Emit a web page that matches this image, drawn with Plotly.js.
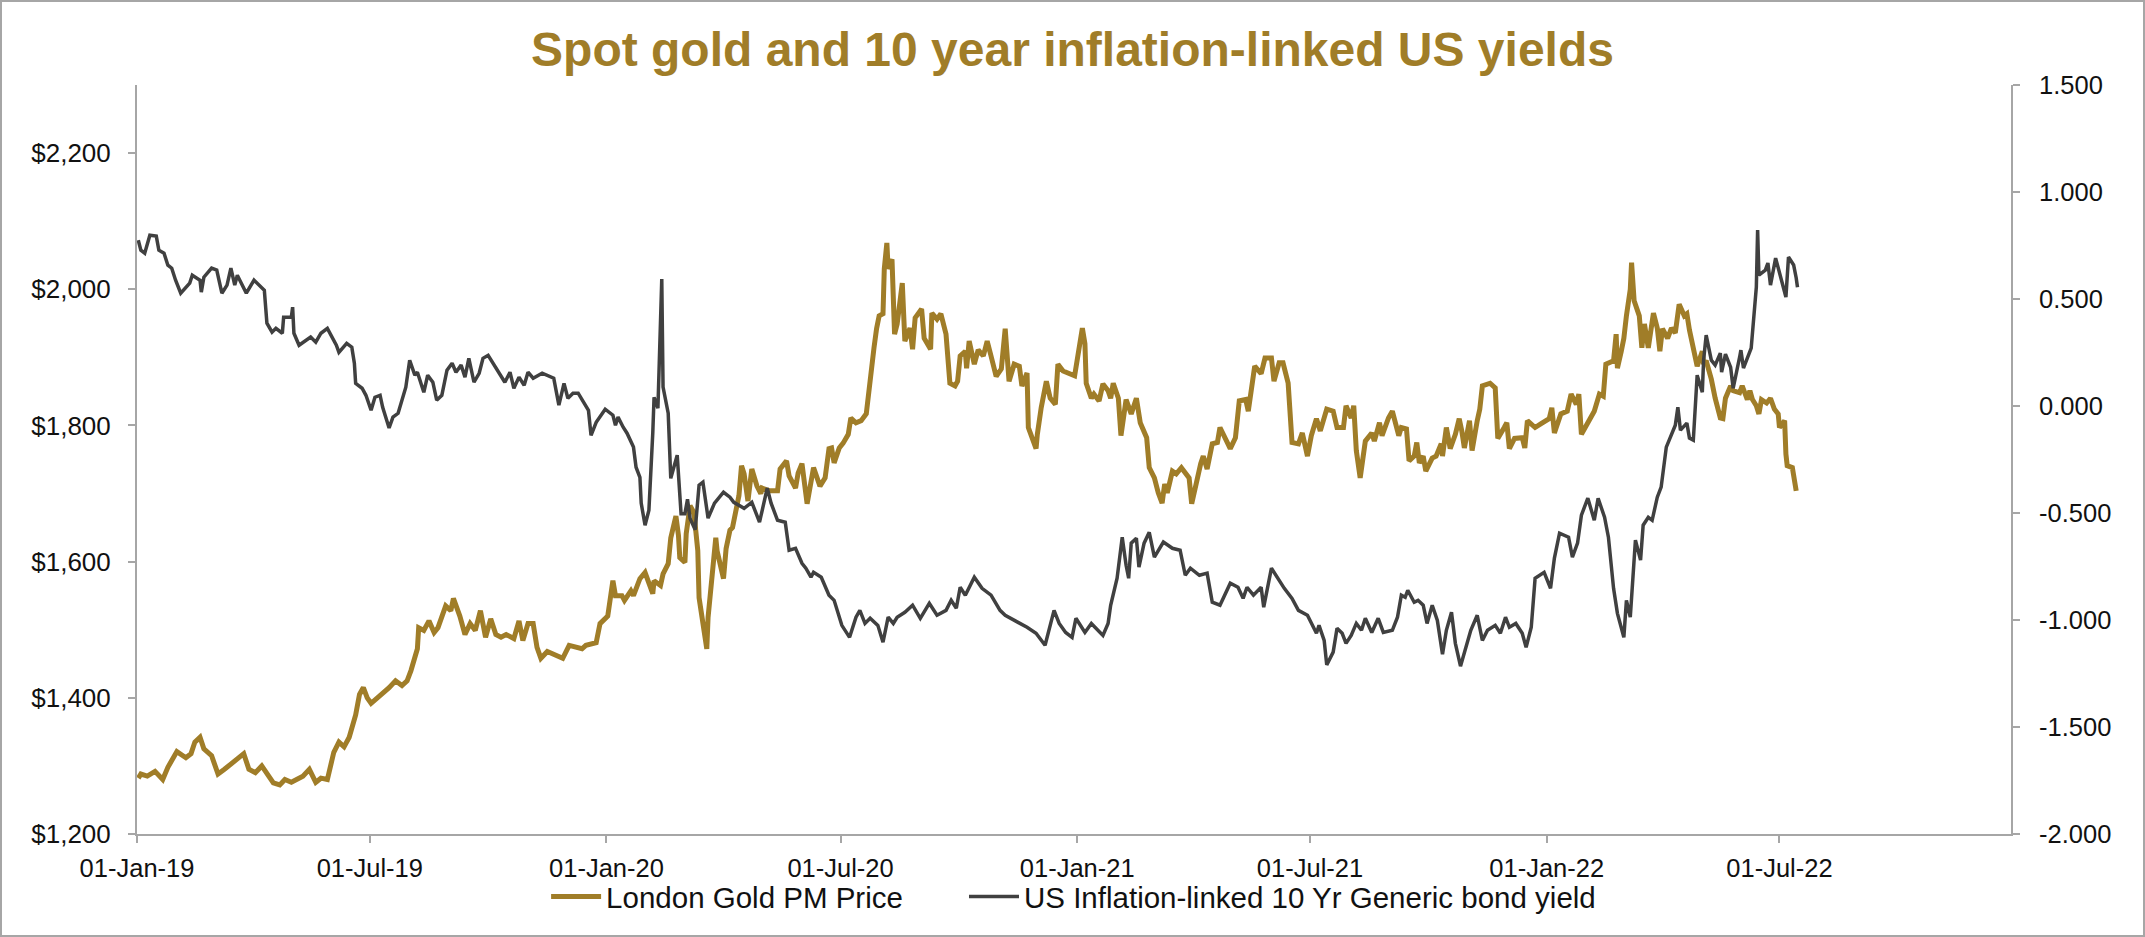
<!DOCTYPE html>
<html><head><meta charset="utf-8">
<script src="https://cdn.plot.ly/plotly-3.0.1.min.js"></script>
<style>
html,body{margin:0;padding:0;background:#fff;}
#frame{width:2145px;height:937px;box-sizing:border-box;border:2px solid #a6a6a6;overflow:hidden;}
#chart{width:2141px;height:933px;}
</style></head><body><div id="frame"><div id="chart"></div></div>
<script>
const chartTitle = 'Spot gold and 10 year inflation-linked US yields';
const seriesNames = ['London Gold PM Price', 'US Inflation-linked 10 Yr Generic bond yield'];

const goldDates = [
'2019-01-02','2019-01-04','2019-01-09','2019-01-15','2019-01-21','2019-01-25','2019-02-01','2019-02-08','2019-02-12','2019-02-15',
'2019-02-19','2019-02-22','2019-02-28','2019-03-05','2019-03-10','2019-03-15','2019-03-20','2019-03-25','2019-03-29','2019-04-03',
'2019-04-08','2019-04-12','2019-04-17','2019-04-22','2019-04-26','2019-05-01','2019-05-06','2019-05-10','2019-05-15','2019-05-20',
'2019-05-24','2019-05-29','2019-06-03','2019-06-07','2019-06-11','2019-06-15','2019-06-20','2019-06-23','2019-06-26','2019-06-29',
'2019-07-02','2019-07-07','2019-07-12','2019-07-16','2019-07-21','2019-07-26','2019-07-30','2019-08-02','2019-08-07','2019-08-08',
'2019-08-12','2019-08-16','2019-08-20','2019-08-23','2019-08-29','2019-09-02','2019-09-04','2019-09-09','2019-09-13','2019-09-17',
'2019-09-21','2019-09-25','2019-09-29','2019-10-03','2019-10-07','2019-10-11','2019-10-15','2019-10-21','2019-10-25','2019-10-28',
'2019-11-01','2019-11-05','2019-11-08','2019-11-11','2019-11-16','2019-11-22','2019-11-28','2019-12-03','2019-12-13','2019-12-16',
'2019-12-24','2019-12-27','2020-01-02','2020-01-06','2020-01-08','2020-01-13','2020-01-15','2020-01-20','2020-01-22','2020-01-27',
'2020-01-31','2020-02-06','2020-02-07','2020-02-12','2020-02-14','2020-02-18','2020-02-20','2020-02-24','2020-02-26','2020-02-27',
'2020-03-02','2020-03-03','2020-03-06','2020-03-09','2020-03-12','2020-03-13','2020-03-17','2020-03-19','2020-03-20','2020-03-24',
'2020-03-26','2020-03-27','2020-04-01','2020-04-03','2020-04-06','2020-04-08','2020-04-13','2020-04-15','2020-04-17','2020-04-20',
'2020-04-23','2020-04-27','2020-04-30','2020-05-01','2020-05-07','2020-05-13','2020-05-15','2020-05-20','2020-05-22','2020-05-27',
'2020-05-29','2020-06-01','2020-06-04','2020-06-05','2020-06-10','2020-06-15','2020-06-19','2020-06-22','2020-06-24','2020-06-26',
'2020-06-30','2020-07-03','2020-07-07','2020-07-09','2020-07-13','2020-07-17','2020-07-21','2020-07-23','2020-07-27','2020-07-29',
'2020-07-31','2020-08-03','2020-08-04','2020-08-06','2020-08-07','2020-08-10','2020-08-11','2020-08-12','2020-08-14','2020-08-18',
'2020-08-20','2020-08-24','2020-08-26','2020-08-28','2020-09-02','2020-09-04','2020-09-09','2020-09-10','2020-09-14','2020-09-17',
'2020-09-21','2020-09-24','2020-09-28','2020-09-30','2020-10-02','2020-10-06','2020-10-07','2020-10-09','2020-10-13','2020-10-16',
'2020-10-20','2020-10-23','2020-10-26','2020-10-30','2020-11-03','2020-11-06','2020-11-09','2020-11-13','2020-11-17','2020-11-19',
'2020-11-23','2020-11-24','2020-11-30','2020-12-01','2020-12-04','2020-12-08','2020-12-11','2020-12-15','2020-12-17','2020-12-21',
'2020-12-30','2021-01-05','2021-01-07','2021-01-08','2021-01-12','2021-01-14','2021-01-18','2021-01-21','2021-01-25','2021-01-27',
'2021-01-29','2021-02-02','2021-02-04','2021-02-08','2021-02-12','2021-02-16','2021-02-19','2021-02-24','2021-02-26','2021-03-02',
'2021-03-05','2021-03-08','2021-03-10','2021-03-12','2021-03-16','2021-03-19','2021-03-23','2021-03-29','2021-03-31','2021-04-05',
'2021-04-07','2021-04-09','2021-04-12','2021-04-16','2021-04-20','2021-04-22','2021-04-26','2021-04-30','2021-05-04','2021-05-07',
'2021-05-12','2021-05-14','2021-05-19','2021-05-24','2021-05-27','2021-06-01','2021-06-03','2021-06-07','2021-06-10','2021-06-14',
'2021-06-17','2021-06-22','2021-06-25','2021-06-29','2021-07-02','2021-07-06','2021-07-09','2021-07-14','2021-07-19','2021-07-22',
'2021-07-27','2021-07-29','2021-08-02','2021-08-04','2021-08-06','2021-08-09','2021-08-13','2021-08-18','2021-08-20','2021-08-24',
'2021-08-26','2021-08-31','2021-09-03','2021-09-08','2021-09-10','2021-09-14','2021-09-16','2021-09-20','2021-09-22','2021-09-24',
'2021-09-27','2021-09-29','2021-10-04','2021-10-07','2021-10-11','2021-10-12','2021-10-15','2021-10-18','2021-10-22','2021-10-25',
'2021-10-27','2021-10-29','2021-11-02','2021-11-04','2021-11-08','2021-11-10','2021-11-12','2021-11-18','2021-11-22','2021-11-24',
'2021-11-29','2021-12-01','2021-12-03','2021-12-07','2021-12-13','2021-12-15','2021-12-17','2021-12-23','2021-12-28','2021-12-31',
'2022-01-03','2022-01-05','2022-01-07','2022-01-12','2022-01-17','2022-01-20','2022-01-24','2022-01-26','2022-01-28','2022-02-02',
'2022-02-07','2022-02-11','2022-02-14','2022-02-16','2022-02-22','2022-02-24','2022-02-25','2022-02-28','2022-03-02','2022-03-04',
'2022-03-07','2022-03-08','2022-03-10','2022-03-14','2022-03-16','2022-03-18','2022-03-21','2022-03-25','2022-03-28','2022-03-30',
'2022-04-01','2022-04-05','2022-04-08','2022-04-11','2022-04-14','2022-04-18','2022-04-20','2022-04-22','2022-04-25','2022-04-28',
'2022-05-02','2022-05-03','2022-05-05','2022-05-09','2022-05-12','2022-05-16','2022-05-18','2022-05-20','2022-05-24','2022-05-26',
'2022-05-31','2022-06-02','2022-06-06','2022-06-08','2022-06-10','2022-06-13','2022-06-15','2022-06-17','2022-06-21','2022-06-24',
'2022-06-27','2022-06-30','2022-07-01','2022-07-05','2022-07-06','2022-07-07','2022-07-11','2022-07-12','2022-07-14'
];
const goldPrice = [
1282,1288,1285,1292,1280,1298,1321,1312,1318,1335,
1342,1325,1315,1288,1295,1302,1310,1318,1295,1290,
1300,1290,1275,1272,1280,1276,1280,1285,1295,1276,
1282,1280,1320,1335,1328,1342,1375,1405,1415,1400,
1392,1400,1410,1415,1425,1418,1425,1440,1472,1503,
1499,1513,1496,1503,1535,1528,1546,1520,1493,1509,
1499,1528,1489,1516,1493,1489,1493,1487,1513,1484,
1509,1509,1474,1458,1468,1462,1458,1477,1472,1477,
1481,1509,1520,1572,1550,1550,1543,1557,1550,1575,
1584,1553,1572,1565,1582,1597,1635,1667,1638,1606,
1599,1641,1682,1672,1616,1547,1489,1472,1518,1604,
1635,1616,1575,1619,1646,1650,1697,1741,1729,1689,
1736,1711,1700,1708,1704,1704,1736,1748,1726,1708,
1730,1744,1692,1685,1738,1711,1723,1766,1767,1745,
1767,1774,1787,1811,1804,1807,1817,1855,1914,1942,
1961,1964,2030,2068,2030,2044,1946,1934,1949,2009,
1924,1943,1912,1958,1971,1928,1912,1965,1956,1964,
1934,1862,1858,1865,1902,1909,1884,1924,1890,1911,
1902,1924,1902,1872,1883,1942,1865,1890,1887,1858,
1877,1797,1766,1787,1826,1865,1840,1831,1890,1880,
1873,1943,1920,1862,1840,1846,1836,1861,1851,1840,
1862,1840,1785,1838,1817,1840,1804,1782,1738,1723,
1701,1686,1714,1701,1733,1729,1738,1723,1685,1730,
1744,1755,1736,1773,1775,1797,1781,1766,1782,1836,
1838,1821,1887,1876,1899,1899,1865,1892,1892,1862,
1775,1773,1789,1755,1785,1810,1792,1824,1821,1797,
1797,1829,1811,1829,1763,1723,1777,1789,1777,1804,
1785,1811,1821,1785,1797,1795,1748,1755,1775,1745,
1755,1733,1752,1755,1773,1755,1797,1766,1787,1810,
1792,1767,1807,1763,1807,1824,1858,1862,1855,1781,
1797,1804,1766,1781,1782,1767,1807,1797,1803,1807,
1810,1826,1789,1817,1821,1846,1831,1846,1787,1804,
1821,1846,1843,1890,1895,1934,1884,1909,1928,1961,
2000,2039,1983,1961,1914,1949,1914,1965,1943,1909,
1942,1928,1943,1936,1978,1961,1964,1940,1909,1887,
1909,1890,1895,1868,1840,1811,1810,1840,1858,1851,
1848,1858,1838,1851,1838,1829,1817,1838,1833,1840,
1824,1817,1797,1807,1758,1741,1738,1723,1704
];

const yieldDates = [
'2019-01-02','2019-01-04','2019-01-07','2019-01-11','2019-01-16','2019-01-18','2019-01-22','2019-01-25','2019-01-28','2019-01-31',
'2019-02-04','2019-02-06','2019-02-11','2019-02-13','2019-02-19','2019-02-20','2019-02-22','2019-02-28','2019-03-04','2019-03-08',
'2019-03-12','2019-03-15','2019-03-18','2019-03-20','2019-03-27','2019-04-02','2019-04-08','2019-04-10','2019-04-12','2019-04-16',
'2019-04-19','2019-04-24','2019-04-25','2019-05-01','2019-05-02','2019-05-03','2019-05-07','2019-05-13','2019-05-16','2019-05-20',
'2019-05-24','2019-05-29','2019-06-03','2019-06-05','2019-06-07','2019-06-13','2019-06-17','2019-06-19','2019-06-20','2019-06-25',
'2019-06-28','2019-07-02','2019-07-05','2019-07-09','2019-07-11','2019-07-16','2019-07-19','2019-07-23','2019-07-29','2019-08-01',
'2019-08-05','2019-08-07','2019-08-12','2019-08-15','2019-08-19','2019-08-22','2019-08-26','2019-08-30','2019-09-03','2019-09-06',
'2019-09-10','2019-09-13','2019-09-16','2019-09-20','2019-09-24','2019-09-27','2019-10-01','2019-10-07','2019-10-14','2019-10-18',
'2019-10-21','2019-10-25','2019-10-29','2019-11-01','2019-11-05','2019-11-12','2019-11-18','2019-11-21','2019-11-25','2019-11-29',
'2019-12-02','2019-12-06','2019-12-10','2019-12-16','2019-12-18','2019-12-20','2019-12-24','2019-12-31','2020-01-06','2020-01-08',
'2020-01-10','2020-01-14','2020-01-17','2020-01-22','2020-01-24','2020-01-27','2020-01-28','2020-01-31','2020-02-03','2020-02-06',
'2020-02-07','2020-02-10','2020-02-13','2020-02-14','2020-02-18','2020-02-20','2020-02-25','2020-02-28','2020-03-02','2020-03-04',
'2020-03-06','2020-03-10','2020-03-13','2020-03-16','2020-03-18','2020-03-20','2020-03-25','2020-04-01','2020-04-06','2020-04-09',
'2020-04-17','2020-04-23','2020-04-29','2020-05-05','2020-05-08','2020-05-13','2020-05-19','2020-05-22','2020-05-27','2020-06-01',
'2020-06-04','2020-06-08','2020-06-10','2020-06-16','2020-06-22','2020-06-26','2020-07-02','2020-07-08','2020-07-13','2020-07-16',
'2020-07-20','2020-07-24','2020-07-30','2020-08-03','2020-08-07','2020-08-11','2020-08-14','2020-08-20','2020-08-26','2020-09-01',
'2020-09-08','2020-09-14','2020-09-21','2020-09-25','2020-09-29','2020-10-02','2020-10-06','2020-10-13','2020-10-19','2020-10-26',
'2020-11-02','2020-11-06','2020-11-16','2020-11-23','2020-11-30','2020-12-07','2020-12-14','2020-12-18','2020-12-23','2020-12-28',
'2020-12-31','2021-01-07','2021-01-12','2021-01-21','2021-01-25','2021-01-27','2021-02-01','2021-02-05','2021-02-08','2021-02-10',
'2021-02-12','2021-02-16','2021-02-18','2021-02-22','2021-02-26','2021-03-02','2021-03-09','2021-03-16','2021-03-22','2021-03-26',
'2021-03-30','2021-04-06','2021-04-12','2021-04-16','2021-04-22','2021-04-26','2021-04-30','2021-05-06','2021-05-10','2021-05-13',
'2021-05-18','2021-05-24','2021-05-26','2021-06-01','2021-06-07','2021-06-11','2021-06-17','2021-06-22','2021-06-29','2021-07-06',
'2021-07-08','2021-07-12','2021-07-14','2021-07-19','2021-07-22','2021-07-26','2021-07-29','2021-08-02','2021-08-06','2021-08-10',
'2021-08-13','2021-08-18','2021-08-23','2021-08-27','2021-09-03','2021-09-07','2021-09-10','2021-09-13','2021-09-15','2021-09-20',
'2021-09-23','2021-09-27','2021-09-30','2021-10-04','2021-10-08','2021-10-12','2021-10-15','2021-10-19','2021-10-22','2021-10-26',
'2021-11-03','2021-11-08','2021-11-12','2021-11-16','2021-11-22','2021-11-26','2021-11-30','2021-12-03','2021-12-08','2021-12-13',
'2021-12-16','2021-12-20','2021-12-23','2021-12-30','2022-01-04','2022-01-07','2022-01-11','2022-01-18','2022-01-21','2022-01-25',
'2022-01-28','2022-02-02','2022-02-07','2022-02-10','2022-02-15','2022-02-18','2022-02-22','2022-02-25','2022-03-02','2022-03-04',
'2022-03-07','2022-03-11','2022-03-15','2022-03-17','2022-03-21','2022-03-24','2022-03-28','2022-03-31','2022-04-04','2022-04-07',
'2022-04-11','2022-04-13','2022-04-15','2022-04-20','2022-04-22','2022-04-25','2022-04-28','2022-05-02','2022-05-03','2022-05-05',
'2022-05-09','2022-05-12','2022-05-16','2022-05-17','2022-05-20','2022-05-24','2022-05-26','2022-05-31','2022-06-01','2022-06-03',
'2022-06-07','2022-06-09','2022-06-13','2022-06-14','2022-06-15','2022-06-20','2022-06-22','2022-06-24','2022-06-28','2022-07-01',
'2022-07-05','2022-07-06','2022-07-08','2022-07-12','2022-07-14','2022-07-15'
];
const yieldValues = [
0.775,0.728,0.714,0.798,0.794,0.728,0.714,0.658,0.644,0.588,
0.527,0.541,0.574,0.611,0.588,0.532,0.602,0.644,0.635,0.527,
0.565,0.644,0.565,0.611,0.527,0.588,0.555,0.541,0.387,0.345,
0.363,0.340,0.415,0.415,0.462,0.340,0.284,0.307,0.322,0.298,
0.340,0.363,0.307,0.284,0.251,0.293,0.275,0.200,0.106,0.083,
0.050,-0.020,0.041,0.050,-0.006,-0.103,-0.052,-0.034,0.088,0.214,
0.144,0.158,0.064,0.144,0.111,0.027,0.050,0.167,0.200,0.158,
0.191,0.135,0.223,0.111,0.153,0.223,0.237,0.177,0.111,0.158,
0.083,0.135,0.097,0.158,0.130,0.153,0.135,0.130,0.004,0.106,
0.036,0.060,0.060,-0.006,-0.020,-0.137,-0.076,-0.015,-0.043,-0.090,
-0.052,-0.099,-0.127,-0.192,-0.286,-0.333,-0.454,-0.557,-0.487,-0.127,
0.041,-0.010,0.593,0.088,-0.034,-0.338,-0.230,-0.503,-0.503,-0.436,
-0.526,-0.578,-0.370,-0.356,-0.449,-0.524,-0.454,-0.403,-0.426,-0.450,
-0.478,-0.450,-0.543,-0.384,-0.454,-0.534,-0.543,-0.674,-0.665,-0.735,
-0.758,-0.800,-0.777,-0.800,-0.884,-0.908,-1.025,-1.081,-0.987,-0.955,
-1.016,-0.992,-1.025,-1.104,-0.987,-1.016,-0.987,-0.964,-0.931,-0.992,
-0.922,-0.978,-0.955,-0.908,-0.945,-0.847,-0.884,-0.800,-0.852,-0.884,
-0.955,-0.978,-1.011,-1.034,-1.062,-1.118,-0.955,-1.016,-1.058,-1.081,
-0.992,-1.058,-1.016,-1.072,-1.016,-0.931,-0.805,-0.613,-0.744,-0.805,
-0.641,-0.618,-0.753,-0.641,-0.590,-0.706,-0.636,-0.665,-0.674,-0.791,
-0.758,-0.791,-0.781,-0.917,-0.931,-0.875,-0.828,-0.847,-0.899,-0.847,
-0.884,-0.847,-0.940,-0.758,-0.814,-0.852,-0.899,-0.955,-0.978,-1.062,
-1.025,-1.095,-1.210,-1.150,-1.039,-1.062,-1.109,-1.072,-1.016,-1.048,
-0.992,-1.058,-0.992,-1.058,-1.048,-0.987,-0.884,-0.894,-0.861,-0.917,
-0.908,-0.931,-1.016,-0.931,-1.002,-1.160,-1.048,-0.964,-1.109,-1.216,
-1.048,-0.978,-1.095,-1.048,-1.025,-1.062,-0.987,-1.034,-1.016,-1.062,
-1.128,-1.034,-0.805,-0.777,-0.852,-0.711,-0.594,-0.613,-0.706,-0.641,
-0.510,-0.431,-0.534,-0.431,-0.520,-0.613,-0.852,-0.969,-1.081,-0.908,
-0.987,-0.627,-0.720,-0.557,-0.520,-0.534,-0.426,-0.379,-0.192,-0.150,
-0.090,-0.006,-0.113,-0.080,-0.150,-0.160,0.144,0.064,0.214,0.331,
0.214,0.191,0.247,0.158,0.242,0.181,0.083,0.228,0.261,0.177,
0.247,0.270,0.555,0.822,0.612,0.635,0.668,0.565,0.691,0.621,
0.518,0.509,0.696,0.659,0.598,0.555
];

const goldTickVals = [1200, 1400, 1600, 1800, 2000, 2200];
const goldTickText = ['$1,200', '$1,400', '$1,600', '$1,800', '$2,000', '$2,200'];
const yieldTickVals = [-2, -1.5, -1, -0.5, 0, 0.5, 1, 1.5];
const yieldTickText = ['-2.000', '-1.500', '-1.000', '-0.500', '0.000', '0.500', '1.000', '1.500'];
const xRange = ['2019-01-01', '2022-12-28'];
const goldRange = [1200, 2300];
const yieldRange = [-2, 1.5];

const GOLD = '#A07D28';
const DARK = '#404040';
const AXIS = '#a6a6a6';
const FONT = 'Liberation Sans, Arial, sans-serif';

const traces = [
  {x: goldDates, y: goldPrice, name: seriesNames[0], type: 'scatter', mode: 'lines',
   line: {color: GOLD, width: 5}, yaxis: 'y', legend: 'legend'},
  {x: yieldDates, y: yieldValues, name: seriesNames[1], type: 'scatter', mode: 'lines',
   line: {color: DARK, width: 3.5}, yaxis: 'y2', legend: 'legend2'}
];

const legendCommon = {orientation: 'h', y: -0.084, yanchor: 'middle', xanchor: 'left', itemwidth: 50,
  font: {family: FONT, size: 29.5, color: '#111111'}, bgcolor: 'rgba(0,0,0,0)', borderwidth: 0};

const layout = {
  width: 2141, height: 933,
  margin: {l: 135, r: 132, t: 83, b: 101},
  paper_bgcolor: '#ffffff', plot_bgcolor: '#ffffff',
  font: {family: FONT, color: '#111111', size: 25},
  title: {text: chartTitle, x: 0.5, xref: 'container', xanchor: 'center',
          y: 0.9496, yref: 'container', yanchor: 'middle',
          font: {family: FONT, size: 48, weight: 'bold', color: GOLD}},
  showlegend: true,
  legend: Object.assign({}, legendCommon, {x: 0.2183}),
  legend2: Object.assign({}, legendCommon, {x: 0.4413}),
  xaxis: {type: 'date', range: xRange, tick0: '2019-01-01', dtick: 'M6', tickformat: '%d-%b-%y',
          showgrid: false, zeroline: false, showline: true, linecolor: AXIS, linewidth: 2,
          ticks: 'outside', ticklen: 7, tickwidth: 2, tickcolor: AXIS,
          tickfont: {family: FONT, size: 25.5, color: '#111111'}, ticklabelstandoff: 3},
  yaxis: {range: goldRange, tickvals: goldTickVals, ticktext: goldTickText,
          showgrid: false, zeroline: false, showline: true, linecolor: AXIS, linewidth: 2,
          ticks: 'outside', ticklen: 7, tickwidth: 2, tickcolor: AXIS,
          tickfont: {family: FONT, size: 26, color: '#111111'}, ticklabelstandoff: 12},
  yaxis2: {range: yieldRange, tickvals: yieldTickVals, ticktext: yieldTickText,
           overlaying: 'y', side: 'right',
           showgrid: false, zeroline: false, showline: true, linecolor: AXIS, linewidth: 2,
           ticks: 'outside', ticklen: 7, tickwidth: 2, tickcolor: AXIS,
           tickfont: {family: FONT, size: 25.5, color: '#111111'}, ticklabelstandoff: 14}
};

Plotly.newPlot('chart', traces, layout, {displayModeBar: false, staticPlot: true});
</script>
</body></html>
